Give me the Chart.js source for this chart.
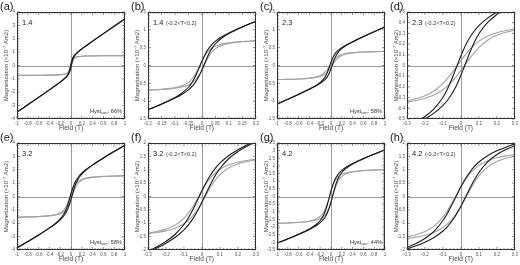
<!DOCTYPE html>
<html><head><meta charset="utf-8">
<script src="https://cdn.jsdelivr.net/npm/chart.js@4/dist/chart.umd.min.js"></script>
<style>
html,body{margin:0;padding:0;background:#fff;width:520px;height:265px;overflow:hidden}
.p{position:absolute;width:130px;height:132px}
canvas{display:block}
</style></head><body>
<div class="p" style="left:0px;top:0px"><canvas id="pa" width="130" height="132"></canvas></div>
<div class="p" style="left:131px;top:0px"><canvas id="pb" width="130" height="132"></canvas></div>
<div class="p" style="left:260px;top:0px"><canvas id="pc" width="130" height="132"></canvas></div>
<div class="p" style="left:390px;top:0px"><canvas id="pd" width="130" height="132"></canvas></div>
<div class="p" style="left:0px;top:131px"><canvas id="pe" width="130" height="132"></canvas></div>
<div class="p" style="left:131px;top:131px"><canvas id="pf" width="130" height="132"></canvas></div>
<div class="p" style="left:260px;top:131px"><canvas id="pg" width="130" height="132"></canvas></div>
<div class="p" style="left:390px;top:131px"><canvas id="ph" width="130" height="132"></canvas></div>
<script>
// ---- Data (field in T, magnetization) ----
const field = [-1,-0.8,-0.6,-0.4,-0.3,-0.25,-0.2,-0.15,-0.1,-0.075,-0.05,-0.0375,-0.025,-0.0125,0,0.0125,0.025,0.0375,0.05,0.075,0.1,0.15,0.2,0.25,0.3,0.4,0.6,0.8,1];

// sample 1.4
const raw14Desc  = [-3.488,-2.935,-2.380,-1.819,-1.534,-1.388,-1.238,-1.078,-0.895,-0.777,-0.610,-0.482,-0.316,-0.104,0.123,0.324,0.479,0.594,0.682,0.811,0.913,1.087,1.242,1.391,1.536,1.821,2.380,2.935,3.488];
const raw14Asc   = [-3.488,-2.935,-2.380,-1.821,-1.536,-1.391,-1.242,-1.087,-0.913,-0.811,-0.682,-0.594,-0.479,-0.324,-0.123,0.104,0.316,0.482,0.610,0.777,0.895,1.078,1.238,1.388,1.534,1.819,2.380,2.935,3.488];
const corr14Desc = [-0.738,-0.735,-0.730,-0.719,-0.709,-0.700,-0.688,-0.665,-0.620,-0.571,-0.472,-0.379,-0.247,-0.070,0.123,0.290,0.410,0.491,0.544,0.605,0.638,0.674,0.692,0.703,0.711,0.721,0.730,0.735,0.738];
const corr14Asc  = [-0.738,-0.735,-0.730,-0.721,-0.711,-0.703,-0.692,-0.674,-0.638,-0.605,-0.544,-0.491,-0.410,-0.290,-0.123,0.070,0.247,0.379,0.472,0.571,0.620,0.665,0.688,0.700,0.709,0.719,0.730,0.735,0.738];

// sample 2.3
const raw23Desc  = [-1.082,-0.947,-0.809,-0.662,-0.580,-0.532,-0.477,-0.405,-0.297,-0.220,-0.124,-0.071,-0.016,0.039,0.091,0.140,0.187,0.227,0.264,0.325,0.373,0.445,0.500,0.547,0.590,0.668,0.811,0.948,1.082];
const raw23Asc   = [-1.082,-0.948,-0.811,-0.668,-0.590,-0.547,-0.500,-0.445,-0.373,-0.325,-0.264,-0.227,-0.187,-0.140,-0.091,-0.039,0.016,0.071,0.124,0.220,0.297,0.405,0.477,0.532,0.580,0.662,0.809,0.947,1.082];
const corr23Desc = [-0.394,-0.388,-0.377,-0.354,-0.330,-0.311,-0.282,-0.238,-0.168,-0.121,-0.069,-0.041,-0.012,0.018,0.046,0.074,0.101,0.127,0.150,0.192,0.226,0.275,0.306,0.327,0.341,0.360,0.379,0.389,0.395];
const corr23Asc  = [-0.395,-0.389,-0.379,-0.360,-0.341,-0.327,-0.306,-0.275,-0.226,-0.192,-0.150,-0.127,-0.101,-0.074,-0.046,-0.018,0.012,0.041,0.069,0.121,0.168,0.238,0.282,0.311,0.330,0.354,0.377,0.388,0.394];

// sample 3.2
const raw32Desc  = [-3.846,-3.367,-2.875,-2.349,-2.052,-1.881,-1.679,-1.421,-1.047,-0.794,-0.486,-0.317,-0.142,0.037,0.214,0.384,0.543,0.693,0.829,1.062,1.249,1.533,1.745,1.923,2.081,2.366,2.882,3.371,3.848];
const raw32Asc   = [-3.848,-3.371,-2.882,-2.366,-2.081,-1.923,-1.745,-1.533,-1.249,-1.062,-0.829,-0.693,-0.543,-0.384,-0.214,-0.037,0.142,0.317,0.486,0.794,1.047,1.421,1.679,1.881,2.052,2.349,2.875,3.367,3.846];
const corr32Desc = [-1.546,-1.527,-1.495,-1.429,-1.362,-1.306,-1.219,-1.076,-0.817,-0.621,-0.371,-0.231,-0.084,0.066,0.214,0.355,0.485,0.607,0.714,0.889,1.019,1.188,1.285,1.348,1.391,1.446,1.502,1.531,1.548];
const corr32Asc  = [-1.548,-1.531,-1.502,-1.446,-1.391,-1.348,-1.285,-1.188,-1.019,-0.889,-0.714,-0.607,-0.485,-0.355,-0.214,-0.066,0.084,0.231,0.371,0.621,0.817,1.076,1.219,1.306,1.362,1.429,1.495,1.527,1.546];

// sample 4.2
const raw42Desc  = [-3.055,-2.770,-2.468,-2.120,-1.897,-1.755,-1.570,-1.305,-0.898,-0.623,-0.309,-0.142,0.030,0.198,0.361,0.515,0.662,0.795,0.916,1.123,1.289,1.534,1.708,1.845,1.960,2.155,2.483,2.779,3.060];
const raw42Asc   = [-3.060,-2.779,-2.483,-2.155,-1.960,-1.845,-1.708,-1.534,-1.289,-1.123,-0.916,-0.795,-0.662,-0.515,-0.361,-0.198,-0.030,0.142,0.309,0.623,0.898,1.305,1.570,1.755,1.897,2.120,2.468,2.770,3.055];
const corr42Desc = [-1.755,-1.730,-1.688,-1.600,-1.507,-1.430,-1.310,-1.110,-0.768,-0.525,-0.244,-0.093,0.062,0.214,0.361,0.499,0.629,0.746,0.851,1.025,1.159,1.339,1.448,1.520,1.570,1.635,1.703,1.739,1.760];
const corr42Asc  = [-1.760,-1.739,-1.703,-1.635,-1.570,-1.520,-1.448,-1.339,-1.159,-1.025,-0.851,-0.746,-0.629,-0.499,-0.361,-0.214,-0.062,0.093,0.244,0.525,0.768,1.110,1.310,1.430,1.507,1.600,1.688,1.730,1.755];

// ---- Tick labels ----
const xTicksWide   = [-1,-0.8,-0.6,-0.4,-0.2,0,0.2,0.4,0.6,0.8,1];
const xTicksB      = [-0.2,-0.15,-0.1,-0.05,0,0.05,0.1,0.15,0.2];
const xTicksNarrow = [-0.3,-0.2,-0.1,0,0.1,0.2,0.3];
const yTicksA = [-4,-3,-2,-1,0,1,2,3,4];
const yTicksB = [-1.5,-1,-0.5,0,0.5,1,1.5];
const yTicksC = [-1.5,-1,-0.5,0,0.5,1,1.5];
const yTicksD = [-0.5,-0.4,-0.3,-0.2,-0.1,0,0.1,0.2,0.3,0.4,0.5];
const yTicksE = [-4,-3,-2,-1,0,1,2,3,4];
const yTicksF = [-2,-1.5,-1,-0.5,0,0.5,1,1.5,2];
const yTicksG = [-3.5,-3,-2.5,-2,-1.5,-1,-0.5,0,0.5,1,1.5,2,2.5,3,3.5];
const yTicksH = [-2,-1.5,-1,-0.5,0,0.5,1,1.5,2];

// ---- Text ----
const panelLetters = ['(a)','(b)','(c)','(d)','(e)','(f)','(g)','(h)'];
const sampleLabels = ['1.4','1.4','2.3','2.3','3.2','3.2','4.2','4.2'];
const rangeNotes   = ['','(-0.2<T<0.2)','','(-0.2<T<0.2)','','(-0.2<T<0.2)','','(-0.2<T<0.2)'];
const hystValues   = ['66%','','58%','','58%','','44%',''];
const xTitle = 'Field (T)';
const yTitle = 'Magnetization (\u00d710\u207b\u2077 Am2)';

const FONT = "'Liberation Sans', Arial, sans-serif";

const framePlugin = {
  id: 'frame',
  beforeDatasetsDraw(chart) {
    const {ctx, chartArea: a, scales: {x, y}} = chart;
    ctx.save();
    ctx.strokeStyle = '#9c9c9c';
    ctx.lineWidth = 1;
    const x0 = Math.round(x.getPixelForValue(0)) + 0.5;
    const y0 = Math.round(y.getPixelForValue(0)) + 0.5;
    ctx.beginPath();
    ctx.moveTo(x0, a.top); ctx.lineTo(x0, a.bottom);
    ctx.moveTo(a.left, y0); ctx.lineTo(a.right, y0);
    ctx.stroke();
    ctx.restore();
  },
  afterDatasetsDraw(chart, args, o) {
    const {ctx, chartArea: a, scales: {x, y}} = chart;
    const L = Math.round(a.left) + 0.5, R = Math.round(a.right) - 0.5;
    const T = Math.round(a.top) + 0.5, B = Math.round(a.bottom) - 0.5;
    ctx.save();
    const minors = (arr, n) => {
      const out = [];
      for (let i = 0; i < arr.length - 1; i++)
        for (let k = 1; k < n; k++) out.push(arr[i] + (arr[i + 1] - arr[i]) * k / n);
      return out;
    };
    ctx.strokeStyle = '#555';
    ctx.lineWidth = 0.7;
    ctx.beginPath();
    const xt = (v, len) => { const p = x.getPixelForValue(v); ctx.moveTo(p, B); ctx.lineTo(p, B - len); ctx.moveTo(p, T); ctx.lineTo(p, T + len); };
    const yt = (v, len) => { const p = y.getPixelForValue(v); ctx.moveTo(L, p); ctx.lineTo(L + len, p); ctx.moveTo(R, p); ctx.lineTo(R - len, p); };
    o.xTicks.forEach(v => xt(v, 2.5));
    o.yTicks.forEach(v => yt(v, 2.5));
    minors(o.xTicks, o.xMinor).forEach(v => xt(v, 1.3));
    minors(o.yTicks, o.yMinor).forEach(v => yt(v, 1.3));
    ctx.stroke();
    ctx.strokeStyle = '#333';
    ctx.lineWidth = 1;
    ctx.strokeRect(L, T, R - L, B - T);
    // sample label
    ctx.fillStyle = '#222';
    ctx.textBaseline = 'alphabetic';
    ctx.textAlign = 'left';
    ctx.font = '7.5px ' + FONT;
    const sx = a.left + 5, sy = a.top + 13;
    ctx.fillText(o.sample, sx, sy);
    if (o.note) {
      const w = ctx.measureText(o.sample).width;
      ctx.font = '5.5px ' + FONT;
      ctx.fillStyle = '#333';
      ctx.fillText(o.note, sx + w + 2.5, sy - 0.5);
    }
    if (o.hyst) {
      ctx.fillStyle = '#333';
      const big = '5.6px ' + FONT, small = '3.8px ' + FONT;
      const tail = ': ' + o.hyst;
      ctx.font = big; const w1 = ctx.measureText('Hyst').width; const w3 = ctx.measureText(tail).width;
      ctx.font = small; const w2 = ctx.measureText('corr').width;
      let hx = a.right - 3 - (w1 + w2 + w3);
      const hy = a.bottom - 6;
      ctx.font = big; ctx.fillText('Hyst', hx, hy); hx += w1;
      ctx.font = small; ctx.fillText('corr', hx, hy + 1.3); hx += w2;
      ctx.font = big; ctx.fillText(tail, hx, hy);
    }
    ctx.restore();
  }
};

function branch(ys) { return field.map((f, i) => ({x: f, y: ys[i]})); }

function makePanel(id, idx, series, xTicks, yTicks, xMinor, yMinor) {
  const [rawD, rawA, corD, corA] = series;
  const black = '#1b1b1b', gray = '#a3a3a3';
  new Chart(document.getElementById(id), {
    type: 'line',
    data: {
      datasets: [
        {data: branch(rawD), borderColor: black, borderWidth: 1.1},
        {data: branch(rawA), borderColor: black, borderWidth: 1.1},
        {data: branch(corD), borderColor: gray, borderWidth: 1.1},
        {data: branch(corA), borderColor: gray, borderWidth: 1.1}
      ]
    },
    options: {
      responsive: false,
      animation: false,
      events: [],
      layout: {padding: {left: 0, right: 5, top: 0, bottom: 0}},
      elements: {point: {radius: 0}, line: {cubicInterpolationMode: 'monotone', fill: false}},
      plugins: {
        legend: {display: false},
        tooltip: {enabled: false},
        title: {display: true, text: panelLetters[idx], align: 'start', color: '#1a1a1a',
                padding: {top: 1, bottom: 0}, font: {family: FONT, size: 11, lineHeight: 1, weight: 'normal'}},
        frame: {xTicks, yTicks, xMinor, yMinor, sample: sampleLabels[idx], note: rangeNotes[idx], hyst: hystValues[idx]}
      },
      scales: {
        x: {
          type: 'linear', min: xTicks[0], max: xTicks[xTicks.length - 1],
          afterBuildTicks: s => { s.ticks = xTicks.map(v => ({value: v})); },
          afterFit: s => { s.height = 13; },
          grid: {display: false, drawTicks: false, tickLength: 0}, border: {display: false},
          ticks: {font: {family: FONT, size: 4.5}, color: '#555', padding: 2, maxRotation: 0, minRotation: 0, autoSkip: false, callback: v => String(v)},
          title: {display: true, text: xTitle, color: '#444', font: {family: FONT, size: 6.5}, padding: {top: 0, bottom: 0}}
        },
        y: {
          type: 'linear', min: yTicks[0], max: yTicks[yTicks.length - 1],
          afterBuildTicks: s => { s.ticks = yTicks.map(v => ({value: v})); },
          afterFit: s => { s.width = 17; },
          grid: {display: false, drawTicks: false, tickLength: 0}, border: {display: false},
          ticks: {font: {family: FONT, size: 4.5}, color: '#555', padding: 2, autoSkip: false, callback: v => String(v)},
          title: {display: true, text: yTitle, color: '#444', font: {family: FONT, size: 6}, padding: {top: 3, bottom: 0}}
        }
      }
    },
    plugins: [framePlugin]
  });
}

const s14 = [raw14Desc, raw14Asc, corr14Desc, corr14Asc];
const s23 = [raw23Desc, raw23Asc, corr23Desc, corr23Asc];
const s32 = [raw32Desc, raw32Asc, corr32Desc, corr32Asc];
const s42 = [raw42Desc, raw42Asc, corr42Desc, corr42Asc];

makePanel('pa', 0, s14, xTicksWide, yTicksA, 4, 5);
makePanel('pb', 1, s14, xTicksB, yTicksB, 5, 5);
makePanel('pc', 2, s23, xTicksWide, yTicksC, 4, 5);
makePanel('pd', 3, s23, xTicksNarrow, yTicksD, 5, 2);
makePanel('pe', 4, s32, xTicksWide, yTicksE, 4, 5);
makePanel('pf', 5, s32, xTicksNarrow, yTicksF, 5, 5);
makePanel('pg', 6, s42, xTicksWide, yTicksG, 4, 5);
makePanel('ph', 7, s42, xTicksNarrow, yTicksH, 5, 5);
</script>
</body></html>
